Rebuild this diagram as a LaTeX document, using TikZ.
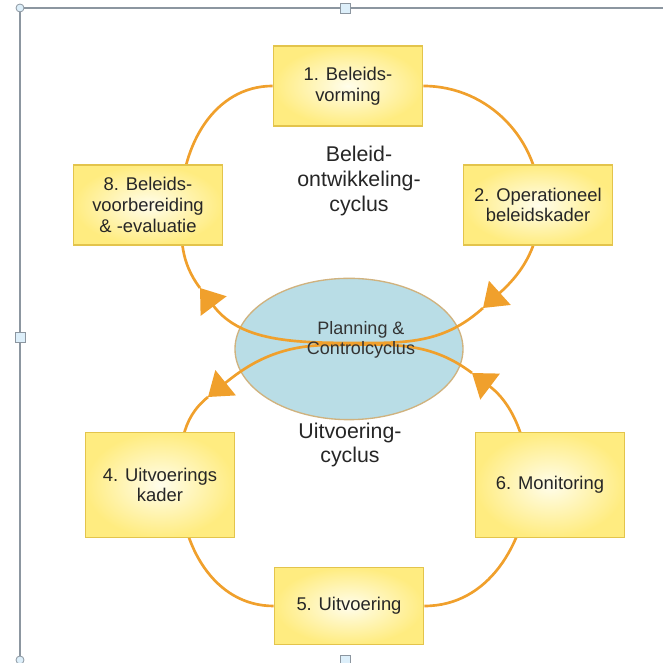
\documentclass[tikz,border=0pt]{standalone}
\usepackage{fontspec}
\setmainfont{Liberation Sans}
\usetikzlibrary{positioning, shapes, arrows.meta, backgrounds}

\definecolor{boxedge}{HTML}{E3C44C}
\definecolor{boxout}{HTML}{FFEC80}
\definecolor{boxin}{HTML}{FFFDEB}
\definecolor{cycleline}{HTML}{F0A02C}
\definecolor{pcfill}{HTML}{B9DDE6}
\definecolor{pcedge}{HTML}{D0B27E}
\definecolor{framegray}{HTML}{8C96A0}
\definecolor{handle}{HTML}{DDEFFA}

\tikzset{
  stage/.style={rectangle, draw=boxedge, line width=1pt, inner color=boxin, outer color=boxout,
    minimum width=112pt, minimum height=60pt, align=center, text=black!85,
    font=\fontsize{13.8}{15.5}\selectfont},
  cyclename/.style={align=center, text=black!85, font=\fontsize{16}{18.5}\selectfont},
  pcycle/.style={ellipse, fill=pcfill, draw=pcedge, line width=1pt, minimum width=171pt, minimum height=106pt},
  pclabel/.style={align=center, text=black!80, font=\fontsize{13.5}{15}\selectfont},
  cyclepath/.style={draw=cycleline, line width=2pt},
  cyclearrow/.style={cyclepath, -{Triangle[length=17pt,width=24pt]}}
}

\begin{document}
\begin{tikzpicture}[x=0.75pt, y=0.75pt]
\useasboundingbox (0,0) rectangle (663,663);
% the frame round the picture
\draw[framegray, line width=0.9pt] (20,3) -- (20,655) -- (663,655);
\foreach \hx/\hy in {345/655, 20/326, 345/3}
  \draw[framegray, fill=handle, line width=0.6pt] (\hx-5,\hy-5) rectangle (\hx+5,\hy+5);
\foreach \hy in {655, 3}
  \draw[framegray, fill=handle, line width=0.6pt] (20,\hy) circle (4);

% the stages
\node[stage] (b1) at (348,577) {1. Beleids-\\vorming};
\node[stage] (b2) at (538,458) {2. Operationeel\\beleidskader};
\node[stage, minimum height=79pt] (b4) at (160,178) {4. Uitvoerings\\kader};
\node[stage, minimum height=58pt] (b5) at (349,57) {5. Uitvoering};
\node[stage, minimum height=79pt] (b6) at (550,178) {6. Monitoring};
\node[stage] (b8) at (148,458) {8. Beleids-\\voorbereiding\\\& -evaluatie};

% the names of the two cycles
\node[cyclename] (beleid) at (359,482) {Beleid-\\ontwikkeling-\\cyclus};
\node[cyclename] (uitvoering) at (350,218) {Uitvoering-\\cyclus};

% points the cycles pass through
\coordinate (uright) at (540,458);
\coordinate (uleft) at (181,458);
\coordinate (ur) at (483,355);
\coordinate (ul) at (200,375);
\coordinate (ubot) at (370,320);
\coordinate (lright) at (530,182);
\coordinate (lleft) at (180,178);
\coordinate (lr) at (472,290);
\coordinate (ll) at (208,266);
\coordinate (ltop) at (330,318);

\begin{scope}[on background layer]
\node[pcycle] (pc) at (349,314) {};
% the upper cycle
\draw[cyclearrow] (b1.east) to[out=0,in=90] (uright) to[out=-90,in=42] (ur);
\draw[cyclearrow] (ur) to[out=222,in=0] (ubot) to[out=180,in=-53] (ul);
\draw[cyclepath] (ul) to[out=127,in=-90] (uleft) to[out=90,in=180] (b1.west);
% the lower cycle
\draw[cyclepath] (ll) to[out=219,in=90] (lleft) to[out=-90,in=180] (b5.west);
\draw[cyclearrow] (b5.east) to[out=0,in=-95] (lright) to[out=95,in=-37] (lr);
\draw[cyclearrow] (lr) to[out=143,in=0] (ltop) to[out=180,in=39] (ll);
\end{scope}

\node[pclabel] (pctext) at (361,323) {Planning \&\\Controlcyclus};
\end{tikzpicture}
\end{document}
